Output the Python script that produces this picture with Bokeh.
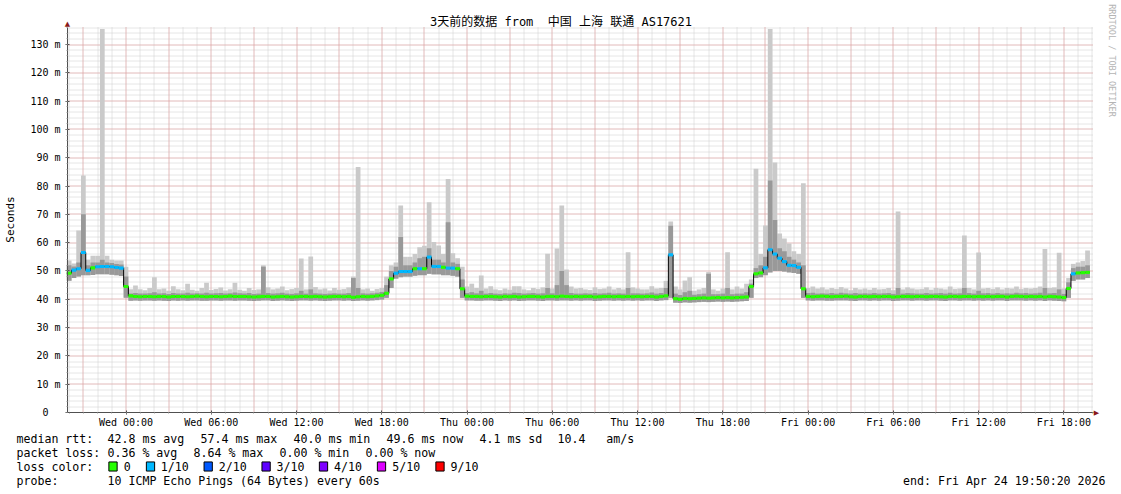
import math
from bokeh.plotting import figure
from bokeh.models import Range1d, FixedTicker, Label, ColumnDataSource, LinearAxis
from bokeh.embed import file_html
from bokeh.resources import INLINE

# ---------------- data (20-minute consolidated steps, hours relative to Wed 00:00) ----------------
STEP_H = 1.0 / 3.0
T_START = -4.1667  # Tue 19:50

median = [
    49.2, 50.3, 50.8, 56.5, 50.2, 51.1, 51.5, 51.6, 51.6, 51.5, 51.2, 51.0,
    44.5, 41.2, 41.0, 40.9, 41.0, 41.0, 40.9, 41.0, 41.0, 40.8, 41.0, 41.0,
    41.0, 40.9, 41.0, 41.1, 41.0, 40.9, 41.0, 41.0, 40.9, 41.0, 41.1, 41.0,
    41.0, 41.0, 40.9, 40.8, 40.9, 41.0, 41.0, 40.8, 40.9, 41.0, 40.9, 40.8,
    40.9, 41.0, 41.0, 40.9, 41.0, 40.9, 40.8, 40.9, 41.0, 41.0, 40.9, 41.0,
    40.7, 40.9, 41.0, 40.9, 41.0, 41.2, 41.4, 42.1, 47.2, 49.2, 49.8, 49.8,
    49.8, 50.8, 50.8, 50.8, 54.9, 51.6, 51.6, 51.3, 51.0, 51.0, 50.8, 43.7,
    41.1, 41.0, 41.0, 40.9, 41.0, 41.0, 40.9, 40.8, 41.0, 40.9, 41.0, 40.8,
    40.9, 41.0, 41.0, 40.9, 40.8, 41.0, 41.0, 40.9, 41.1, 41.0, 40.9, 41.0,
    40.9, 41.0, 41.0, 40.8, 40.9, 41.0, 41.0, 40.9, 41.0, 40.9, 41.0, 40.9,
    41.0, 40.9, 41.0, 41.0, 40.8, 41.0, 41.2, 55.7, 40.2, 40.0, 40.3, 40.2,
    40.3, 40.4, 40.5, 40.4, 40.5, 40.6, 40.5, 40.6, 40.5, 40.6, 40.7, 40.8,
    44.5, 49.0, 49.3, 51.1, 57.5, 56.0, 54.5, 53.3, 52.0, 51.9, 51.3, 43.7,
    41.0, 40.9, 41.0, 41.1, 41.0, 40.9, 41.0, 41.0, 41.1, 40.9, 40.8, 41.0,
    41.0, 40.9, 41.0, 40.9, 41.0, 41.0, 40.8, 40.9, 41.0, 41.0, 40.9, 41.0,
    41.0, 40.9, 41.0, 41.0, 40.9, 40.8, 41.0, 41.0, 40.9, 41.0, 41.0, 40.9,
    41.0, 40.9, 41.0, 40.9, 41.0, 41.0, 40.8, 41.0, 41.1, 41.0, 40.9, 41.0,
    40.9, 41.0, 40.8, 41.0, 40.9, 40.8, 40.6, 43.8, 49.0, 49.3, 49.4, 49.5,
]

loss_tenths = [
    0, 1, 1, 1, 1, 0, 1, 1, 1, 1, 1, 1,
    0, 0, 0, 0, 0, 0, 0, 0, 0, 0, 0, 0,
    0, 0, 0, 0, 0, 0, 0, 0, 0, 0, 0, 0,
    0, 0, 0, 0, 0, 0, 0, 0, 0, 0, 0, 0,
    0, 0, 0, 0, 0, 0, 0, 0, 0, 0, 0, 0,
    0, 0, 0, 0, 0, 0, 0, 0, 0, 1, 1, 1,
    1, 0, 1, 0, 1, 1, 1, 0, 1, 1, 0, 0,
    0, 0, 0, 0, 0, 0, 0, 0, 0, 0, 0, 0,
    0, 0, 0, 0, 0, 0, 0, 0, 0, 0, 0, 0,
    0, 0, 0, 0, 0, 0, 0, 0, 0, 0, 0, 0,
    0, 0, 0, 0, 0, 0, 0, 1, 0, 0, 0, 0,
    0, 0, 0, 0, 0, 0, 0, 0, 0, 0, 0, 0,
    0, 0, 0, 1, 1, 1, 1, 1, 1, 1, 1, 0,
    0, 0, 0, 0, 0, 0, 0, 0, 0, 0, 0, 0,
    0, 0, 0, 0, 0, 0, 0, 0, 0, 0, 0, 0,
    0, 0, 0, 0, 0, 0, 0, 0, 0, 0, 0, 0,
    0, 0, 0, 0, 0, 0, 0, 0, 0, 0, 0, 0,
    0, 0, 0, 0, 0, 0, 0, 0, 1, 0, 0, 0,
]

rtt_max = [
    53.7, 52.6, 64.3, 83.7, 54.0, 55.4, 55.4, 135.5, 55.4, 54.0, 53.7, 53.7,
    51.5, 43.5, 44.9, 43.5, 43.2, 44.0, 47.8, 43.5, 43.8, 43.0, 44.6, 43.5,
    43.2, 45.5, 43.4, 43.0, 44.0, 45.8, 43.3, 43.6, 44.2, 43.1, 43.5, 45.8,
    43.4, 43.0, 44.0, 43.3, 43.5, 52.0, 44.2, 43.5, 43.8, 44.5, 43.2, 43.6,
    44.0, 54.4, 43.5, 55.1, 44.3, 43.5, 43.8, 43.1, 44.0, 43.4, 43.6, 44.2,
    48.0, 86.7, 43.5, 43.8, 43.0, 43.6, 44.0, 48.0, 52.0, 53.0, 73.1, 55.0,
    55.0, 56.0, 58.4, 58.9, 74.3, 60.2, 59.0, 56.0, 82.5, 56.3, 54.5, 51.5,
    44.5, 45.5, 44.0, 48.4, 43.8, 44.6, 43.5, 43.2, 43.8, 43.4, 44.6, 44.6,
    43.5, 43.2, 44.0, 43.6, 44.2, 56.1, 43.8, 57.9, 73.1, 50.5, 44.5, 43.8,
    44.0, 43.5, 43.3, 44.2, 43.6, 43.8, 44.5, 43.5, 44.0, 43.5, 56.6, 44.2,
    43.8, 43.5, 43.5, 44.6, 43.8, 44.0, 46.5, 67.5, 44.5, 43.5, 46.6, 47.8,
    43.0, 43.5, 44.0, 49.6, 43.5, 43.0, 43.8, 56.6, 43.5, 44.5, 43.8, 45.5,
    47.0, 86.1, 56.0, 66.1, 135.5, 88.3, 63.2, 61.5, 59.7, 57.0, 56.0, 81.0,
    44.0, 44.5, 43.8, 44.2, 43.5, 44.0, 43.6, 44.3, 43.8, 43.2, 44.0, 43.5,
    43.8, 43.4, 44.0, 43.5, 43.6, 44.0, 43.2, 71.0, 43.5, 44.2, 43.8, 43.5,
    43.6, 44.2, 43.4, 44.0, 43.8, 43.5, 44.5, 43.6, 43.8, 62.5, 44.0, 43.5,
    56.5, 43.8, 44.0, 43.6, 44.2, 43.5, 44.0, 43.8, 44.5, 43.6, 44.0, 43.8,
    44.0, 44.5, 57.8, 44.0, 44.2, 56.4, 43.8, 47.5, 52.5, 53.0, 53.5, 57.2,
]

rtt_upper = [  # second-highest ping (darker smoke top)
    52.0, 51.6, 53.0, 70.0, 52.0, 53.0, 53.0, 54.0, 53.0, 52.8, 52.5, 52.3,
    48.0, 42.0, 42.2, 42.0, 42.0, 42.1, 42.5, 42.0, 42.1, 41.9, 42.2, 42.0,
    42.0, 42.3, 42.0, 42.1, 42.0, 42.3, 42.0, 42.1, 42.2, 42.0, 42.1, 42.4,
    42.1, 42.0, 42.2, 41.9, 42.0, 51.5, 42.2, 42.0, 42.1, 42.3, 42.0, 41.9,
    42.1, 43.0, 42.0, 43.5, 42.1, 42.0, 41.9, 42.0, 42.1, 42.0, 42.0, 42.2,
    47.5, 44.0, 42.1, 42.0, 42.1, 42.3, 42.6, 45.0, 50.0, 51.5, 62.0, 52.0,
    52.0, 53.0, 54.5, 55.0, 58.0, 54.0, 54.0, 53.0, 67.2, 53.0, 52.5, 47.0,
    42.2, 42.5, 42.1, 43.0, 42.0, 42.2, 42.0, 41.9, 42.1, 42.0, 42.3, 42.2,
    42.0, 42.1, 42.2, 42.0, 42.1, 44.0, 42.1, 45.0, 50.0, 45.0, 42.2, 42.0,
    42.0, 42.1, 42.0, 42.2, 42.0, 42.1, 42.3, 42.0, 42.1, 42.0, 44.0, 42.1,
    42.1, 42.0, 42.1, 42.4, 42.0, 42.2, 44.0, 66.0, 42.0, 41.5, 42.5, 43.0,
    41.6, 41.8, 42.0, 49.0, 41.8, 41.8, 42.0, 44.0, 41.8, 42.0, 42.0, 42.5,
    45.5, 51.0, 52.0, 55.0, 82.0, 68.0, 58.0, 57.0, 55.0, 54.0, 53.0, 52.0,
    42.2, 42.3, 42.0, 42.1, 42.0, 42.2, 42.0, 42.3, 42.1, 42.0, 42.2, 42.0,
    42.1, 42.0, 42.2, 42.0, 42.1, 42.2, 41.9, 44.0, 42.0, 42.2, 42.1, 42.0,
    42.0, 42.2, 42.0, 42.1, 42.2, 42.0, 42.3, 42.0, 42.1, 44.0, 42.2, 42.0,
    43.0, 42.1, 42.2, 42.0, 42.2, 42.0, 42.1, 42.0, 42.3, 42.1, 42.2, 42.0,
    42.1, 42.3, 44.0, 42.1, 42.2, 43.5, 41.9, 46.0, 51.0, 51.5, 51.5, 52.0,
]

rtt_min = [
    46.5, 47.5, 48.0, 48.5, 48.5, 48.6, 48.8, 48.8, 48.8, 48.7, 48.5, 48.2,
    40.5, 39.5, 39.6, 39.5, 39.6, 39.6, 39.5, 39.6, 39.5, 39.4, 39.6, 39.5,
    39.6, 39.5, 39.6, 39.6, 39.5, 39.5, 39.6, 39.6, 39.5, 39.6, 39.6, 39.5,
    39.6, 39.6, 39.5, 39.4, 39.5, 39.6, 39.6, 39.4, 39.5, 39.6, 39.5, 39.4,
    39.5, 39.6, 39.6, 39.5, 39.6, 39.5, 39.4, 39.5, 39.6, 39.6, 39.5, 39.6,
    39.4, 39.5, 39.6, 39.5, 39.6, 39.7, 39.9, 40.5, 44.0, 47.3, 47.8, 48.0,
    48.0, 48.3, 48.5, 48.5, 49.0, 48.8, 48.8, 48.5, 48.5, 48.3, 48.0, 40.5,
    39.6, 39.6, 39.5, 39.5, 39.6, 39.6, 39.5, 39.4, 39.6, 39.5, 39.6, 39.4,
    39.5, 39.6, 39.6, 39.5, 39.4, 39.6, 39.6, 39.5, 39.6, 39.6, 39.5, 39.6,
    39.5, 39.6, 39.6, 39.4, 39.5, 39.6, 39.6, 39.5, 39.6, 39.5, 39.6, 39.5,
    39.6, 39.5, 39.6, 39.6, 39.4, 39.6, 39.7, 40.5, 38.8, 38.7, 38.9, 38.8,
    38.9, 39.0, 39.1, 39.0, 39.1, 39.2, 39.1, 39.2, 39.1, 39.2, 39.3, 39.4,
    40.5, 47.5, 47.8, 48.5, 49.5, 50.0, 50.0, 49.8, 49.5, 49.3, 49.0, 40.5,
    39.6, 39.5, 39.6, 39.6, 39.5, 39.5, 39.6, 39.6, 39.6, 39.5, 39.4, 39.6,
    39.6, 39.5, 39.6, 39.5, 39.6, 39.6, 39.4, 39.5, 39.6, 39.6, 39.5, 39.6,
    39.6, 39.5, 39.6, 39.6, 39.5, 39.4, 39.6, 39.6, 39.5, 39.6, 39.6, 39.5,
    39.6, 39.5, 39.6, 39.5, 39.6, 39.6, 39.4, 39.6, 39.6, 39.6, 39.5, 39.6,
    39.5, 39.6, 39.4, 39.6, 39.5, 39.4, 39.3, 40.5, 46.5, 47.0, 47.0, 47.5,
]

x_tick_hours = [0, 6, 12, 18, 24, 30, 36, 42, 48, 54, 60, 66]
x_tick_labels = ["Wed 00:00", "Wed 06:00", "Wed 12:00", "Wed 18:00",
                 "Thu 00:00", "Thu 06:00", "Thu 12:00", "Thu 18:00",
                 "Fri 00:00", "Fri 06:00", "Fri 12:00", "Fri 18:00"]
y_ticks = [0, 10, 20, 30, 40, 50, 60, 70, 80, 90, 100, 110, 120, 130]
y_tick_labels = ["0\u00a0\u00a0", "10 m", "20 m", "30 m", "40 m", "50 m", "60 m",
                 "70 m", "80 m", "90 m", "100 m", "110 m", "120 m", "130 m"]

loss_levels = [0, 1, 2, 3, 4, 5, 9]
loss_level_labels = ["0", "1/10", "2/10", "3/10", "4/10", "5/10", "9/10"]
loss_colors = ["#26ff00", "#00b8ff", "#0059ff", "#5e00ff", "#7e00ff", "#dd00ff", "#ff0000"]

NB = "\u00a0"  # keeps repeated spaces visible in the SVG text
title_text = "3天前的数据 from" + NB + NB + "中国 上海 联通 AS17621"
rtt_stats = ["42.8 ms avg", "57.4 ms max", "40.0 ms min", "49.6 ms now", "4.1 ms sd",
             "10.4" + NB * 3 + "am/s"]
loss_stats = ["0.36 % avg", "8.64 % max", "0.00 % min", "0.00 % now"]
probe_text = "10 ICMP Echo Pings (64 Bytes) every 60s"
end_text = "end: Fri Apr 24 19:50:20 2026"

# ---------------- geometry (reference pixel layout) ----------------
W, H = 1121, 494
FL, FR, FT, FB = 67, 1093, 27, 412      # graph area in page pixels
X0PX, PXH = 125.5, 14.21                # Wed 00:00 position, px per hour
PXM = (412 - 44) / 130.0                # px per ms


def hx(px):
    return (px - X0PX) / PXH


def my(py):
    return (FB - py) / PXM


def snap_h(h):   # put a vertical grid line on a pixel centre
    return hx(math.floor(X0PX + h * PXH) + 0.5)


def snap_v(v):   # put a horizontal grid line on a pixel centre
    return my(math.floor(FB - v * PXM) + 0.5)


x_lo, x_hi = hx(FL), hx(FR)
y_top = my(FT)

MONO = "DejaVu Sans Mono"

# the frame covers the whole canvas so that every text can be placed freely
p = figure(width=W, height=H, output_backend="svg", toolbar_location=None,
           x_range=Range1d(hx(0), hx(W)), y_range=Range1d(my(H), my(0)),
           x_axis_location=None, y_axis_location=None,
           min_border_left=0, min_border_right=0, min_border_top=0, min_border_bottom=0)
p.outline_line_color = None
p.background_fill_color = "white"
p.border_fill_color = "white"
p.grid.visible = False

# ---------------- grid (dotted, rrdtool style) ----------------
minor_h = [h for h in range(-4, 69) if x_lo <= h <= x_hi]
major_h = [h for h in range(-3, 69, 3) if x_lo <= h <= x_hi]
minor_v = list(range(2, 137, 2))
major_v = list(range(10, 131, 10))
mh = [snap_h(h) for h in minor_h]
Mh = [snap_h(h) for h in major_h]
mv = [snap_v(v) for v in minor_v]
Mv = [snap_v(v) for v in major_v]
p.segment(x0=mh, y0=[0] * len(mh), x1=mh, y1=[y_top] * len(mh),
          line_color="#cccccc", line_dash="1 1", line_width=1)
p.segment(x0=[x_lo] * len(mv), y0=mv, x1=[x_hi] * len(mv), y1=mv,
          line_color="#cccccc", line_dash="1 1", line_width=1)
p.segment(x0=Mh, y0=[0] * len(Mh), x1=Mh, y1=[y_top] * len(Mh),
          line_color="#eb9a9a", line_dash="1 1", line_width=1)
p.segment(x0=[x_lo] * len(Mv), y0=Mv, x1=[x_hi] * len(Mv), y1=Mv,
          line_color="#eb9a9a", line_dash="1 1", line_width=1)

# ---------------- smoke, median, loss colour ----------------
n = len(median)
left = [T_START + i * STEP_H for i in range(n)]
right = [T_START + (i + 1) * STEP_H for i in range(n)]
color_of = dict(zip(loss_levels, loss_colors))
src = ColumnDataSource(dict(
    left=left, right=right, median=median, lo=rtt_min, hi=rtt_max, up=rtt_upper,
    mlo=[m - 0.55 for m in median], mhi=[m + 0.55 for m in median],
    lc=[color_of[v] for v in loss_tenths]))

p.quad(left="left", right="right", bottom="lo", top="hi", source=src,
       fill_color="#cacaca", line_color=None)
p.quad(left="left", right="right", bottom="lo", top="up", source=src,
       fill_color="#999999", line_color=None)
p.step(x=left + [right[-1]], y=median + [median[-1]], mode="after",
       line_color="black", line_width=1)
p.quad(left="left", right="right", bottom="mlo", top="mhi", source=src,
       fill_color="lc", line_color=None)

# ---------------- axes placed at the graph edges ----------------
xa = LinearAxis(fixed_location=0, bounds=(x_lo, x_hi),
                ticker=FixedTicker(ticks=x_tick_hours, minor_ticks=minor_h))
xa.major_label_overrides = {h: lab for h, lab in zip(x_tick_hours, x_tick_labels)}
ya = LinearAxis(fixed_location=x_lo, bounds=(0, y_top),
                ticker=FixedTicker(ticks=y_ticks, minor_ticks=[0] + minor_v))
ya.major_label_overrides = {v: lab for v, lab in zip(y_ticks, y_tick_labels)}
for ax in (xa, ya):
    ax.axis_line_color = "#505050"
    ax.major_tick_line_color = "#505050"
    ax.minor_tick_line_color = "#a0a0a0"
    ax.major_tick_in = 2
    ax.major_tick_out = 2
    ax.minor_tick_in = 0
    ax.minor_tick_out = 1
    ax.major_label_text_font = MONO
    ax.major_label_text_font_size = "10px"
    ax.major_label_text_color = "black"
xa.major_label_standoff = 2
ya.major_label_standoff = 5
p.add_layout(xa, "below")
p.add_layout(ya, "left")


# ---------------- texts ----------------
def add_label(px, py, text, size="11.6px", align="left", color="black",
              angle=0.0, font=MONO):
    lab = Label(x=hx(px), y=my(py), text=text, text_font=font,
                text_font_size=size, text_align=align, text_baseline="middle",
                text_color=color, angle=angle)
    p.add_layout(lab)
    return lab


add_label(560.5, 21, title_text, size="12px", align="center",
          font="DejaVu Sans Mono, Noto Sans CJK SC")
add_label(10, 219, "Seconds", size="11px", align="center", angle=math.pi / 2)
add_label(1111.5, 60, "RRDTOOL / TOBI OETIKER", size="8.5px", align="center",
          color="#b4b4b4", angle=-math.pi / 2)
add_label(67, 23, "\u25b2", size="7px", align="center", color="#8b1a1a",
          font="DejaVu Sans")
add_label(1096, 412, "\u25b6", size="7px", align="center", color="#8b1a1a",
          font="DejaVu Sans")

L1, L2, L3, L4 = 438, 452, 466, 480
add_label(16, L1, "median rtt:")
for xpos, s in zip([107, 200, 293, 386, 479, 557], rtt_stats):
    add_label(xpos, L1, s)
add_label(16, L2, "packet loss:")
for xpos, s in zip([107, 193, 279, 365], loss_stats):
    add_label(xpos, L2, s)
add_label(16, L3, "loss color:")
for bx, tx, lab, col in zip([112.5, 150, 207.7, 265.6, 323, 381, 439.5],
                            [123.3, 160.3, 218.3, 276, 333.5, 391.7, 450],
                            loss_level_labels, loss_colors):
    box = Label(x=hx(bx), y=my(L3), text=NB, text_font_size="1px",
                text_align="center", text_baseline="middle", padding=4,
                background_fill_color=col, border_line_color="black",
                border_line_width=1)
    p.add_layout(box)
    add_label(tx, L3, lab)
add_label(16, L4, "probe:")
add_label(107, L4, probe_text)
add_label(1105, L4, end_text, align="right")

open("out.html", "w").write(file_html(p, INLINE))
